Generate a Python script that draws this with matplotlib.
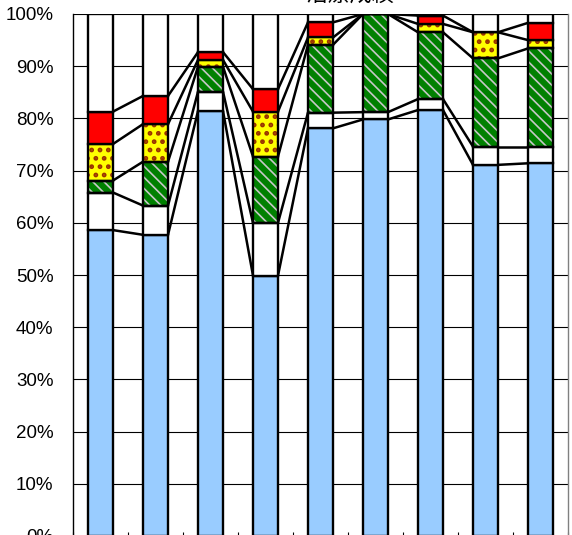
import numpy as np
import matplotlib
matplotlib.use('Agg')
import matplotlib.pyplot as plt
from matplotlib.ticker import FuncFormatter

plt.rcParams['font.family'] = ['Liberation Sans Narrow', 'Liberation Sans', 'DejaVu Sans']
plt.rcParams['hatch.linewidth'] = 1.2

# segment sizes in percent, bottom to top (rest up to 100% is the white top part)
blue = [58.6, 57.7, 81.4, 49.9, 78.1, 79.8, 81.6, 71.1, 71.4]
white = [7.2, 5.6, 3.7, 10.1, 3.0, 1.4, 2.1, 3.5, 3.2]
green = [2.3, 8.4, 4.8, 12.7, 13.0, 18.8, 12.8, 16.9, 18.8]
yellow = [7.0, 7.2, 1.3, 8.6, 1.4, 0.0, 1.6, 5.0, 1.6]
red = [6.2, 5.4, 1.5, 4.3, 2.9, 0.0, 1.6, 0.0, 3.3]
title = "治療成績"

# (values, face, hatch, hatch colour, hatch width)
series = [
    (blue, '#99CCFF', None, None, None),
    (white, 'white', None, None, None),
    (green, '#008000', '\\\\\\', '#C8C8C8', 1.2),
    (yellow, '#FFFF00', '..', '#993300', 2.2),
    (red, '#FF0000', None, None, None),
]

n = len(blue)
x = np.arange(n)
w = 0.455

fig = plt.figure(figsize=(5.72, 5.35), dpi=100)
ax = fig.add_axes([73 / 572, -1 / 535, 495 / 572, 522 / 535])

ax.set_axisbelow(True)
ax.yaxis.grid(True, color='black', linewidth=0.8)

bottom = np.zeros(n)
tops = []
for vals, col, hatch, hcol, hlw in series:
    vals = np.array(vals)
    if hatch:
        with plt.rc_context({'hatch.linewidth': hlw}):
            ax.bar(x, vals, w, bottom=bottom, color=col, edgecolor=hcol,
                   linewidth=0, hatch=hatch, zorder=2)
        ax.bar(x, vals, w, bottom=bottom, facecolor='none', edgecolor='black',
               linewidth=1.7, zorder=3)
    else:
        ax.bar(x, vals, w, bottom=bottom, color=col, edgecolor='black',
               linewidth=1.7, zorder=3)
    bottom = bottom + vals
    tops.append(bottom.copy())

rest = 100 - bottom
ax.bar(x, rest, w, bottom=bottom, color='white', edgecolor='black',
       linewidth=1.7, zorder=3)

# series lines between bars
for t in tops:
    for i in range(n - 1):
        ax.plot([x[i] + w / 2, x[i + 1] - w / 2], [t[i], t[i + 1]],
                color='black', linewidth=1.8, zorder=4, solid_capstyle='butt')

ax.set_xlim(-0.5, n - 0.5)
ax.set_ylim(0, 100)
ax.set_yticks(np.arange(0, 101, 10))
ax.yaxis.set_major_formatter(FuncFormatter(lambda v, p: f"{int(v)}%"))
ax.tick_params(axis='y', length=0, pad=14, labelsize=13.5)
ax.set_xticks(np.arange(n + 1) - 0.5)
ax.set_xticklabels([])
ax.tick_params(axis='x', direction='in', length=3, width=0.8)

for s in ['left', 'bottom']:
    ax.spines[s].set_color('black')
    ax.spines[s].set_linewidth(1.0)
ax.spines['top'].set_visible(False)
ax.spines['right'].set_color('#808080')
ax.spines['right'].set_linewidth(1.0)

fig.text(350 / 572, 1 + 5 / 535, title, ha='center', va='center',
         fontsize=16, family=['Noto Sans CJK JP', 'DejaVu Sans'])

fig.savefig('out.png', dpi=100)
